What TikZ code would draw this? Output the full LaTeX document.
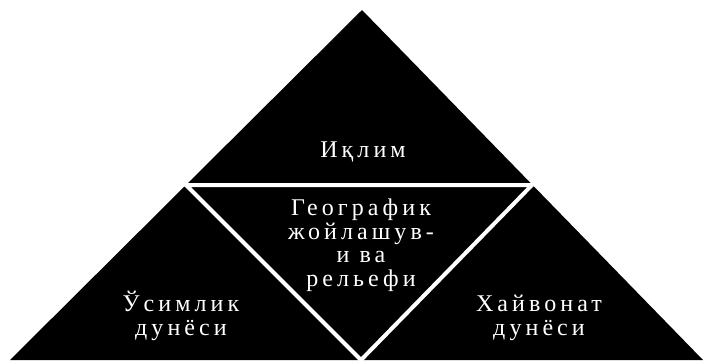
\documentclass[tikz,border=0pt]{standalone}
\usepackage{fontspec}
\newfontfamily\dfont[LetterSpace=17]{Liberation Serif}
\begin{document}
\begin{tikzpicture}[x=1pt,y=-1pt,
  lbl/.style={text=white, align=center, font=\dfont\fontsize{24}{23.5}\selectfont, inner sep=0pt}]
\useasboundingbox (0,0) rectangle (703,360);
\fill[white] (0,0) rectangle (703,360);
\coordinate (A) at (362,10);
\coordinate (L) at (10,360);
\coordinate (R) at (703,360);
\coordinate (ML) at (186,185);
\coordinate (MR) at (532,185);
\coordinate (MB) at (361,360);
\fill[black] (A) -- (L) -- (R) -- cycle;
\draw[white, line width=4pt, line join=miter] (MB) -- (ML) -- (MR) -- cycle;
\node[lbl] (top) at (363,152) {Иқлим};
\node[lbl] (mid) at (361,245) {Географик\\жойлашув-\\и ва\\рельефи};
\node[lbl] (left) at (181,316) {Ўсимлик\\дунёси};
\node[lbl] (right) at (539,318) {Хайвонат\\дунёси};
\end{tikzpicture}
\end{document}
